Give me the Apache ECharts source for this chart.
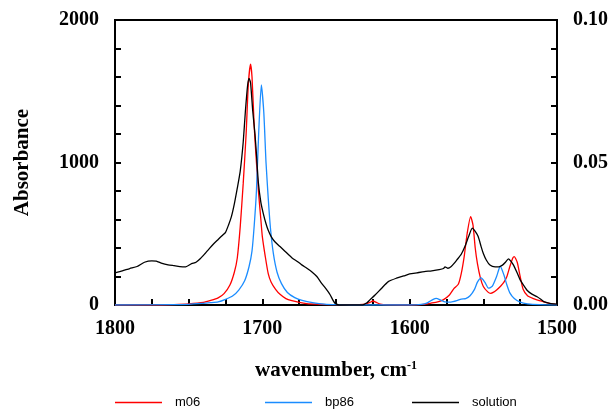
<!DOCTYPE html>
<html><head><meta charset="utf-8">
<script src="https://cdn.jsdelivr.net/npm/echarts@6/dist/echarts.min.js"></script>
<style>html,body{margin:0;padding:0;background:#fff}#c{width:612px;height:411px}</style>
</head><body><div id="c"></div>
<script>
// m06 (left axis)
const m06X = [1800,1770,1760,1750,1740,1735,1730,1726,1722,1719,1717,1715,1713,1711,1709.5,1708,1707,1705.5,1704,1702.5,1701,1700,1698,1696,1694,1691,1688,1684,1680,1675,1670,1660,1650,1640,1630,1627,1625,1623,1620,1615,1600,1590,1586,1581,1577,1573,1570,1567,1565,1563,1561,1558.6,1557,1555.5,1554,1552,1550,1547,1545,1543,1541,1538,1536,1534,1532,1530,1529,1527,1525,1523,1520,1516,1512,1509,1505,1502,1500];
const m06Y = [0,0,3,8,18,32,50,80,140,230,330,550,850,1200,1550,1690,1600,1250,1000,780,600,480,340,220,160,110,75,45,30,18,10,5,2,2,6,18,28,20,6,1,0,4,12,22,38,70,115,145,220,340,500,620,560,400,290,190,130,92,82,90,105,135,160,200,270,330,340,300,200,110,65,45,30,22,12,6,3];
// bp86 (left axis)
const bp86X = [1800,1760,1750,1740,1735,1730,1725,1720,1716,1712,1709,1707,1705.5,1704,1702.5,1700.7,1699,1697.5,1696,1694.5,1692.5,1690,1687,1683,1678,1673,1665,1658,1650,1640,1625,1600,1592,1588,1584,1582,1579,1576,1572,1568,1565,1562,1559,1556,1554,1551.5,1549,1546.5,1544,1541,1538.5,1536,1534,1532,1529,1525,1520,1512,1500];
const bp86Y = [0,2,5,12,16,22,40,65,105,170,270,380,560,800,1200,1544,1350,1000,750,540,360,230,150,88,52,32,15,6,2,0,0,0,4,15,40,47,35,22,20,30,42,45,65,110,160,190,160,118,130,200,272,210,140,85,45,20,8,2,0];
// solution (right axis)
const solX = [1800,1795,1790,1785,1780,1775,1772,1768,1764,1760,1756,1752,1748,1745,1742,1739,1736,1733,1730,1727,1725,1723,1721,1719,1717,1715,1713,1711.5,1710,1709,1708,1706.5,1705,1704,1702.7,1701,1699.3,1697.5,1696,1694,1691.5,1688,1684.5,1680,1676,1673,1670,1666.5,1663,1660,1657,1654,1651,1648,1640,1632,1629,1627,1623.5,1619,1614.5,1609,1604,1600,1595,1590,1585,1580,1577,1576,1574,1572,1570,1568,1565,1562.5,1560,1557.5,1555.5,1553.5,1551.5,1550,1548,1545.5,1542,1539.5,1537,1535,1533,1531.5,1529.5,1527,1525,1522.5,1520,1517,1513.5,1511,1509,1505,1502,1500];
const solY = [0.0113,0.0120,0.0128,0.0135,0.0150,0.0155,0.0154,0.0146,0.0141,0.0138,0.0135,0.0134,0.0145,0.0150,0.0163,0.0180,0.0198,0.0215,0.0230,0.0245,0.0255,0.0280,0.0310,0.0355,0.0410,0.0470,0.0570,0.0680,0.0770,0.0795,0.0780,0.0680,0.0600,0.0530,0.0430,0.0360,0.0320,0.0285,0.0262,0.0240,0.0222,0.0205,0.0188,0.0166,0.0152,0.0140,0.0130,0.0117,0.0100,0.0078,0.0058,0.0036,0.0008,0,0,0,0.0008,0.0018,0.0035,0.0059,0.0082,0.0094,0.0102,0.0109,0.0113,0.0117,0.0120,0.0124,0.0128,0.0134,0.0129,0.0134,0.0145,0.0158,0.0178,0.0205,0.0240,0.0270,0.0258,0.0240,0.0205,0.0181,0.0158,0.0140,0.0134,0.0134,0.0140,0.0150,0.0162,0.0155,0.0140,0.0112,0.0088,0.0068,0.0050,0.0038,0.0029,0.0020,0.0012,0.0006,0.0004,0.0003];
const seriesNames = ['m06','bp86','solution'];
const xTickLabels = [1500,1600,1700,1800];
const leftTickLabels = [0,1000,2000];
const rightTickLabels = ['0.00','0.05','0.10'];

const zip = (xs, ys) => xs.map((x, i) => [x, ys[i]]);
const serif = 'Liberation Serif';
const labelStyle = {fontFamily: serif, fontWeight: 'bold', fontSize: 20, color: '#000'};

const chart = echarts.init(document.getElementById('c'), null, {renderer: 'canvas'});
const legendBase = {top: 396, padding: 0, icon: 'rect', itemWidth: 47, itemHeight: 1.3, textStyle: {fontFamily: 'Liberation Sans', fontSize: 13, color: '#000', padding: [0,0,0,8]}};
chart.setOption({
  animation: false,
  backgroundColor: '#fff',
  grid: {left: 115, right: 55, top: 20, bottom: 106, show: true, borderColor: '#000', borderWidth: 2},
  legend: [
    Object.assign({}, legendBase, {left: 115, data: [seriesNames[0]]}),
    Object.assign({}, legendBase, {left: 265, data: [seriesNames[1]]}),
    Object.assign({}, legendBase, {left: 412, data: [seriesNames[2]]})
  ],
  xAxis: {
    type: 'value', min: 1500, max: 1800, interval: 25, inverse: true,
    name: '{a|wavenumber, cm}{s|-1}', nameLocation: 'middle', nameGap: 55,
    nameTextStyle: {rich: {a: {fontFamily: serif, fontWeight: 'bold', fontSize: 21, color: '#000'}, s: {fontFamily: serif, fontWeight: 'bold', fontSize: 12, color: '#000', verticalAlign: 'top', padding: [0,0,10,0]}}},
    axisLine: {lineStyle: {color: '#000', width: 2}},
    axisTick: {inside: true, length: 6, lineStyle: {color: '#000', width: 2}},
    axisLabel: Object.assign({}, labelStyle, {margin: 14, formatter: v => xTickLabels.includes(v) ? String(v) : ''}),
    splitLine: {show: false}
  },
  yAxis: [{
    type: 'value', min: 0, max: 2000, interval: 200, position: 'left',
    name: 'Absorbance', nameLocation: 'middle', nameRotate: 90, nameGap: 82,
    nameTextStyle: {fontFamily: serif, fontWeight: 'bold', fontSize: 21, color: '#000'},
    axisLine: {show: true, lineStyle: {color: '#000', width: 2}},
    axisTick: {show: true, inside: true, length: 6, lineStyle: {color: '#000', width: 2}},
    axisLabel: Object.assign({}, labelStyle, {margin: 16, padding: [10,0,0,0], formatter: v => leftTickLabels.includes(v) ? String(v) : ''}),
    splitLine: {show: false}
  }, {
    type: 'value', min: 0, max: 0.1, interval: 0.01, position: 'right',
    axisLine: {show: true, lineStyle: {color: '#000', width: 2}},
    axisTick: {show: true, inside: true, length: 6, lineStyle: {color: '#000', width: 2}},
    axisLabel: Object.assign({}, labelStyle, {margin: 16, padding: [10,0,0,0], formatter: v => { const s = v.toFixed(2); return rightTickLabels.includes(s) ? s : ''; }}),
    splitLine: {show: false}
  }],
  series: [
    {name: seriesNames[0], type: 'line', yAxisIndex: 0, data: zip(m06X, m06Y), symbol: 'none', smooth: 0.2, lineStyle: {color: '#ff0000', width: 1.3}, itemStyle: {color: '#ff0000'}},
    {name: seriesNames[1], type: 'line', yAxisIndex: 0, data: zip(bp86X, bp86Y), symbol: 'none', smooth: 0.2, lineStyle: {color: '#1a8cff', width: 1.3}, itemStyle: {color: '#1a8cff'}},
    {name: seriesNames[2], type: 'line', yAxisIndex: 1, data: zip(solX, solY), symbol: 'none', smooth: 0.2, lineStyle: {color: '#000', width: 1.3}, itemStyle: {color: '#000'}}
  ]
});
</script></body></html>
